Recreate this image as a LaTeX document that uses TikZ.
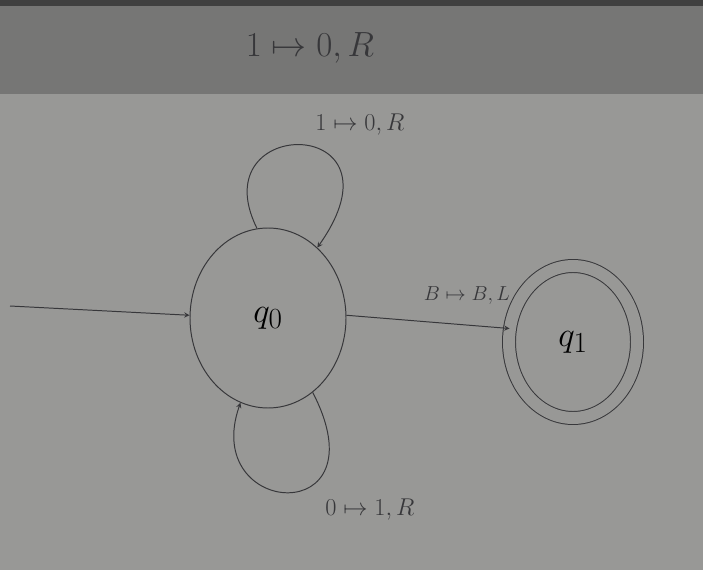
\documentclass[tikz,border=0pt]{standalone}
\usetikzlibrary{shapes.geometric,arrows}
\definecolor{board}{RGB}{152,152,150}
\definecolor{band}{RGB}{118,118,117}
\definecolor{ink}{RGB}{55,55,58}
\begin{document}
\begin{tikzpicture}[baseline,scale = 1]

    \tikzset{
      state/.style={
        draw=ink,
        ellipse,
        line width=0.7pt,
        inner sep=0pt,
      },
      trans/.style={
        color={ink},
        line width=0.7pt,
        >=stealth,
        ->,
      },
      lbl/.style={
        anchor = center,
        text=ink,
      },
    }
    \useasboundingbox (0,0) rectangle (17.575,14.25);
    \fill[color={board}] (0,0) rectangle (17.575,14.25);
    \fill[color={band}] (0,11.9) rectangle (17.575,14.25);
    \fill[color={black!75}] (0,14.1) rectangle (17.575,14.25);

	\node[state,minimum width=3.9cm,minimum height=4.5cm] (q0) at (6.7,6.3) {\Huge $q_0$};
	\node[state,double=board,double distance=0.3cm,minimum width=3.2cm,minimum height=3.8cm] (q1) at (14.325,5.7) {\Huge $q_1$};
	\coordinate (start) at (0.25,6.6);

	\draw[trans] (start) -- (q0.178);
	\draw[trans] (q0.2) -- (q1.168);
	\draw[trans] (q0.97) .. controls (5.0,11.4) and (10.3,11.4) .. (q0.55);
	\draw[trans] (q0.-59) .. controls (9.6,1.0) and (5.0,1.3) .. (q0.-108);

	\node[lbl] (lab01) at (11.675,6.85) {\Large $B\mapsto B,L$};
	\node[lbl] (lab00) at (9.0,11.125) {\LARGE $1\mapsto 0,R$};
	\node[lbl] (lab10) at (9.25,1.5) {\LARGE $0\mapsto 1,R$};
	\node[lbl] (note) at (7.75,13.05) {\Huge $1\mapsto 0,R$};

\end{tikzpicture}
\end{document}
